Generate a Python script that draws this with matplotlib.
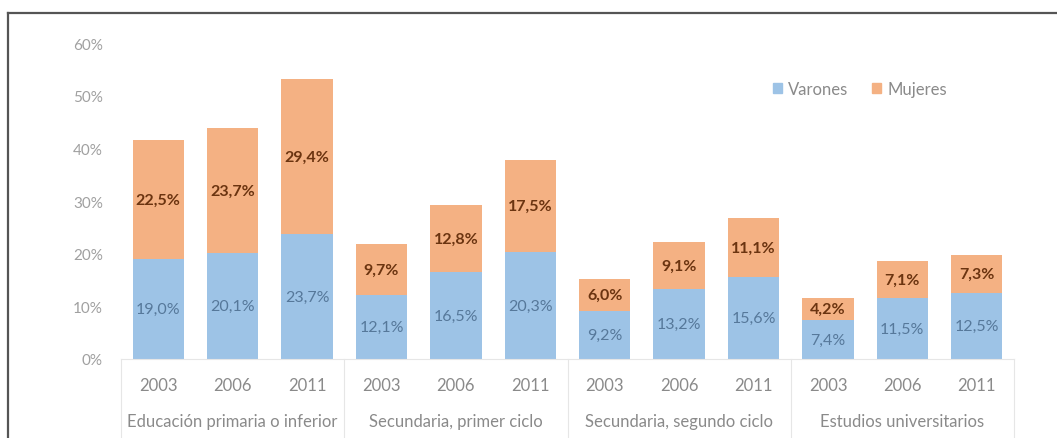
import matplotlib
matplotlib.use("Agg")
import matplotlib.pyplot as plt
from matplotlib.lines import Line2D
from matplotlib.patches import Patch

plt.rcParams['font.family'] = ['Lato', 'DejaVu Sans']

groups = ["Educación primaria o inferior", "Secundaria, primer ciclo",
          "Secundaria, segundo ciclo", "Estudios universitarios"]
years = ["2003", "2006", "2011"]
varones = [19.0, 20.1, 23.7, 12.1, 16.5, 20.3, 9.2, 13.2, 15.6, 7.4, 11.5, 12.5]
mujeres = [22.5, 23.7, 29.4, 9.7, 12.8, 17.5, 6.0, 9.1, 11.1, 4.2, 7.1, 7.3]
yticks = [0, 10, 20, 30, 40, 50, 60]

blue = "#9dc3e6"
orange = "#f4b183"

W, H = 1057, 439
fig = plt.figure(figsize=(W / 100, H / 100), dpi=100)
ax = fig.add_axes([121 / W, (H - 360) / H, 893 / W, 316 / H])

x = list(range(len(varones)))
ax.bar(x, varones, width=0.69, color=blue, label="Varones")
ax.bar(x, mujeres, width=0.69, bottom=varones, color=orange, label="Mujeres")

def fmt(v):
    return f"{v:.1f}%".replace(".", ",")

for i, (v, m) in enumerate(zip(varones, mujeres)):
    ax.text(i, v / 2, fmt(v), ha="center", va="center", fontsize=11.5,
            color="#56789a")
    ax.text(i, v + m / 2, fmt(m), ha="center", va="center", fontsize=11.5,
            color="#6b3410", fontweight="bold")

ax.set_xlim(-0.5, len(varones) - 0.5)
ax.set_ylim(0, 60)
ax.set_yticks(yticks)
ax.set_yticklabels([f"{t}%" for t in yticks])
ax.tick_params(axis="y", length=0, pad=13, labelsize=11, labelcolor="#a0a0a0")
ax.set_xticks(x)
ax.set_xticklabels(years * len(groups))
ax.tick_params(axis="x", length=0, pad=13, labelsize=12, labelcolor="#8a8a8a")
for s in ax.spines.values():
    s.set_visible(False)

# baseline and group separators
trans = ax.get_xaxis_transform()
ax.plot([-0.5, len(varones) - 0.5], [0, 0], transform=trans, color="#e6e6e6",
        lw=0.8, clip_on=False)
for k in range(len(groups) + 1):
    xs = k * 3 - 0.5
    ax.plot([xs, xs], [0, -0.25], transform=trans, color="#e6e6e6", lw=0.8,
            clip_on=False)
for k, g in enumerate(groups):
    ax.text(k * 3 + 1, -0.196, g, transform=trans, ha="center", va="center",
            fontsize=12, color="#8a8a8a")

handles = [Patch(color=blue), Patch(color=orange)]
leg = fig.legend(handles, ["Varones", "Mujeres"], loc="center",
                 bbox_to_anchor=(860 / W, (H - 90) / H), ncol=2, frameon=False,
                 fontsize=12, handlelength=0.55, handleheight=0.55,
                 handletextpad=0.4, columnspacing=1.4)
for t in leg.get_texts():
    t.set_color("#8a8a8a")

# outer frame
fig.add_artist(Line2D([8 / W, 1], [(H - 14) / H] * 2, color="#555555", lw=1.6))
fig.add_artist(Line2D([8 / W] * 2, [0, (H - 14) / H], color="#555555", lw=1.6))

fig.savefig("out.png", dpi=100, facecolor="white")
